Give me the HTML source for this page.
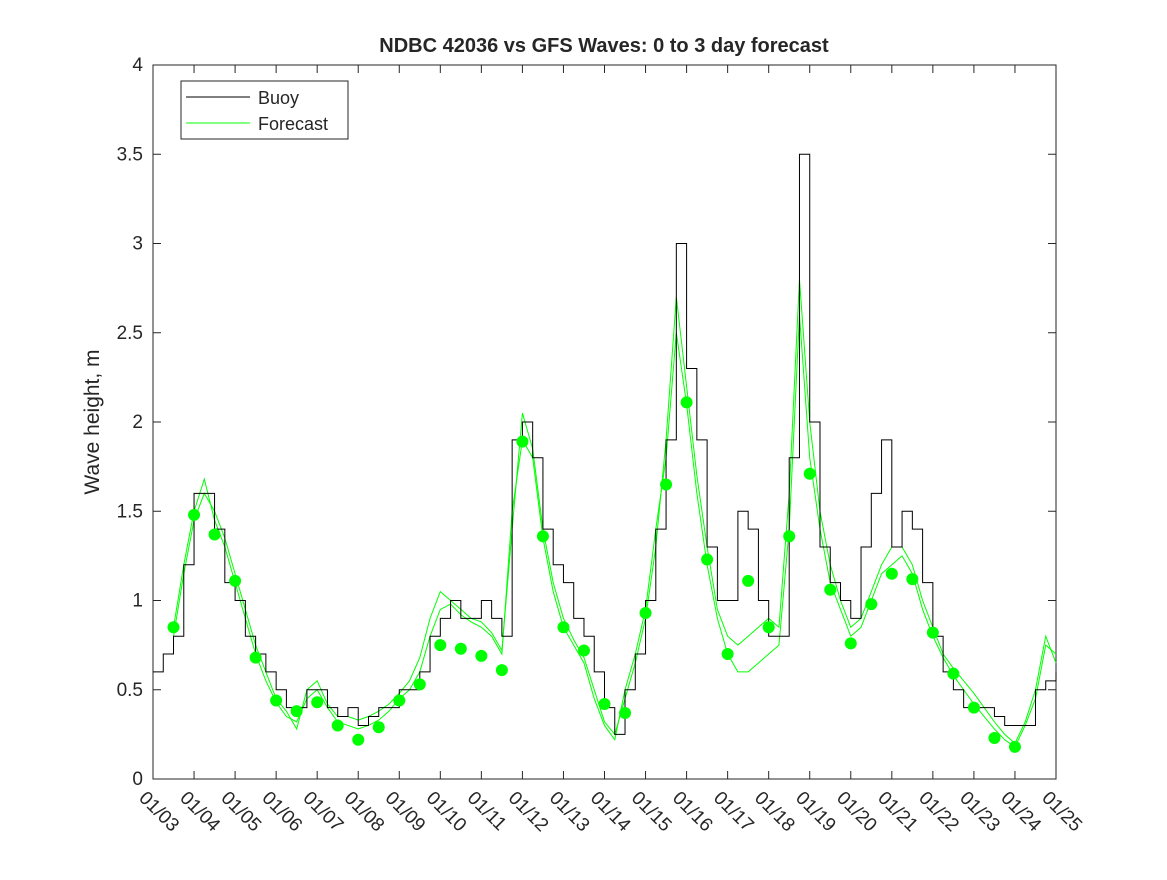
<!DOCTYPE html>
<html><head><meta charset="utf-8"><style>
body{margin:0;background:#fff}
svg text{font-family:"Liberation Sans",sans-serif;fill:#262626}
</style></head><body>
<svg id="c" width="1167" height="875"></svg>
<script>
const buoyStart=0, buoyStep=0.25;
const buoyValues=[0.6,0.7,0.8,1.2,1.6,1.6,1.4,1.1,1.0,0.8,0.7,0.6,0.5,0.4,0.4,0.5,0.5,0.4,0.35,0.4,0.3,0.35,0.4,0.4,0.5,0.5,0.6,0.8,0.9,1.0,0.9,0.9,1.0,0.9,0.8,1.9,2.0,1.8,1.4,1.2,1.1,0.9,0.8,0.6,0.4,0.25,0.5,0.7,1.0,1.4,1.9,3.0,2.3,1.9,1.3,1.0,1.0,1.5,1.4,1.0,0.8,0.8,1.8,3.5,2.0,1.3,1.1,1.0,0.9,1.3,1.6,1.9,1.3,1.5,1.4,1.1,0.8,0.6,0.5,0.4,0.4,0.4,0.35,0.3,0.3,0.3,0.5,0.55,0.6];
const fcStart=0.5, fcStep=0.25;
const forecastA=[0.85,1.2,1.5,1.68,1.45,1.3,1.1,0.9,0.7,0.55,0.43,0.35,0.32,0.45,0.5,0.4,0.32,0.3,0.28,0.3,0.33,0.38,0.45,0.5,0.6,0.8,0.95,0.98,0.92,0.88,0.85,0.8,0.7,1.5,1.9,1.8,1.35,1.05,0.85,0.75,0.65,0.45,0.3,0.22,0.5,0.7,0.95,1.4,1.8,2.5,2.1,1.6,1.2,0.9,0.7,0.6,0.6,0.65,0.7,0.75,1.4,2.6,1.8,1.4,1.1,0.95,0.8,0.85,1.0,1.15,1.2,1.25,1.15,0.95,0.8,0.68,0.58,0.5,0.42,0.35,0.28,0.22,0.18,0.3,0.45,0.75,0.7];
const forecastB=[0.8,1.15,1.45,1.6,1.5,1.35,1.15,0.95,0.75,0.6,0.45,0.38,0.28,0.5,0.55,0.42,0.35,0.35,0.33,0.35,0.38,0.42,0.48,0.55,0.68,0.9,1.05,1.0,0.95,0.9,0.88,0.82,0.72,1.4,2.05,1.85,1.4,1.1,0.9,0.78,0.68,0.5,0.32,0.25,0.45,0.65,0.9,1.3,1.9,2.7,2.2,1.7,1.3,0.95,0.8,0.75,0.8,0.85,0.9,0.85,1.6,2.8,2.0,1.5,1.2,1.0,0.85,0.9,1.05,1.2,1.3,1.3,1.2,1.0,0.85,0.7,0.62,0.55,0.48,0.4,0.32,0.25,0.2,0.32,0.5,0.8,0.65];
const dotStart=0.5, dotStep=0.5;
const dotValues=[0.85,1.48,1.37,1.11,0.68,0.44,0.38,0.43,0.30,0.22,0.29,0.44,0.53,0.75,0.73,0.69,0.61,1.89,1.36,0.85,0.72,0.42,0.37,0.93,1.65,2.11,1.23,0.70,1.11,0.85,1.36,1.71,1.06,0.76,0.98,1.15,1.12,0.82,0.59,0.40,0.23,0.18];
const xTickLabels=["01/03","01/04","01/05","01/06","01/07","01/08","01/09","01/10","01/11","01/12","01/13","01/14","01/15","01/16","01/17","01/18","01/19","01/20","01/21","01/22","01/23","01/24","01/25"];
const yTicks=[0,0.5,1,1.5,2,2.5,3,3.5,4];

const L=153,R=1056,T=65,B=779;
const X=d=>L+(R-L)*d/22, Y=v=>B-(B-T)*v/4;
const svg=document.getElementById('c'),NS='http://www.w3.org/2000/svg';
function mk(t,a,p){const e=document.createElementNS(NS,t);for(const k in a)e.setAttribute(k,a[k]);(p||svg).appendChild(e);return e;}
mk('rect',{x:L,y:T,width:R-L,height:B-T,fill:'#fff',stroke:'#262626','stroke-width':1});
yTicks.forEach(v=>{const y=Y(v);
 mk('line',{x1:L,x2:L+8,y1:y,y2:y,stroke:'#262626'});mk('line',{x1:R,x2:R-8,y1:y,y2:y,stroke:'#262626'});
 const t=mk('text',{x:L-10,y:y+6,'text-anchor':'end','font-size':19});t.textContent=v;
 });
xTickLabels.forEach((s,i)=>{const x=X(i);
 mk('line',{x1:x,x2:x,y1:B,y2:B-8,stroke:'#262626'});mk('line',{x1:x,x2:x,y1:T,y2:T+8,stroke:'#262626'});
 const t=mk('text',{x:x-15,y:B+20,'font-size':19,transform:`rotate(45 ${x-15} ${B+20})`});t.textContent=s;
 });
function line(vals,s0,st,col,w,step,name){let d='';vals.forEach((v,i)=>{const x=X(s0+i*st),y=Y(v);
 if(i==0)d='M'+x+' '+y;else if(step)d+=' H'+x+' V'+y;else d+=' L'+x+' '+y;});
 const p=mk('path',{d,fill:'none',stroke:col,'stroke-width':w});}
line(forecastA,fcStart,fcStep,'#00ff00',1,false,'forecast-line-a');
line(forecastB,fcStart,fcStep,'#00ff00',1,false,'forecast-line-b');
line(buoyValues,buoyStart,buoyStep,'#000',1,true,'buoy-line');
dotValues.forEach((v,i)=>{const c=mk('circle',{cx:X(dotStart+i*dotStep),cy:Y(v),r:6,fill:'#00ff00'});
 });
const ti=mk('text',{x:604,y:52,'text-anchor':'middle','font-size':20,'font-weight':'bold',fill:'#000'});ti.textContent='NDBC 42036 vs GFS Waves: 0 to 3 day forecast';

const yl=mk('text',{x:99,y:422,'text-anchor':'middle','font-size':21,transform:'rotate(-90 99 422)'});yl.textContent='Wave height, m';

const lg=mk('g',{});
mk('rect',{x:181,y:81,width:167,height:58,fill:'#fff',stroke:'#262626'},lg);
mk('line',{x1:186,x2:250,y1:97,y2:97,stroke:'#000'},lg);
mk('line',{x1:186,x2:250,y1:123,y2:123,stroke:'#00ff00'},lg);
const t1=mk('text',{x:258,y:104,'font-size':18,fill:'#000'},lg);t1.textContent='Buoy';
const t2=mk('text',{x:258,y:130,'font-size':18,fill:'#000'},lg);t2.textContent='Forecast';
</script>
</body></html>
